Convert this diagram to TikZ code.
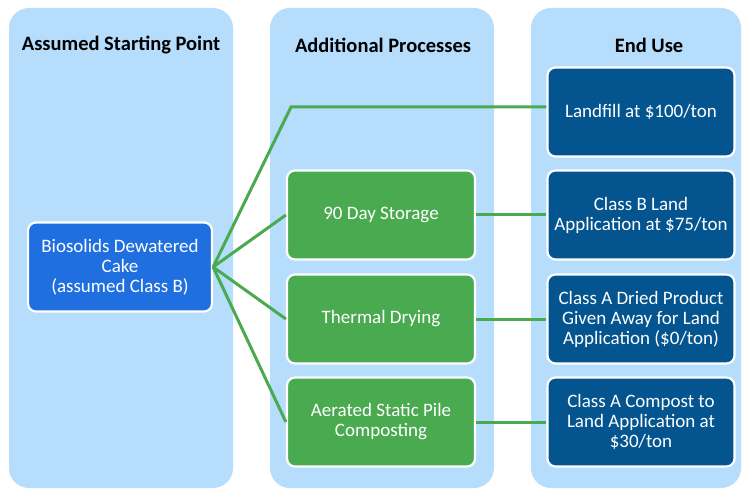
\documentclass[tikz,border=0pt]{standalone}
\usepackage{fontspec}
\setmainfont{Carlito}
\definecolor{colbg}{HTML}{B6DDFB}
\definecolor{startblue}{HTML}{1F6FE0}
\definecolor{procgreen}{HTML}{4AAA50}
\definecolor{enddark}{HTML}{04558F}
\definecolor{linegreen}{HTML}{4AAA50}
\begin{document}
\begin{tikzpicture}[x=1pt,y=-1pt,
  column/.style={fill=colbg,draw=none,rounded corners=20pt},
  header/.style={font=\fontsize{20.5}{24}\selectfont\bfseries,text=black},
  box/.style={draw=white,line width=2.2pt,rounded corners=8pt,text=white,align=center,
     font=\fontsize{19}{20}\selectfont,inner sep=0pt},
  startbox/.style={box,fill=startblue,minimum width=184pt,minimum height=89pt},
  procbox/.style={box,fill=procgreen,minimum width=188pt,minimum height=89pt},
  endbox/.style={box,fill=enddark,minimum width=187pt,minimum height=89pt},
  conn/.style={draw=linegreen,line width=3pt}]
\useasboundingbox (0,0) rectangle (744,489);
\fill[white] (0,0) rectangle (744,489);
\fill[column] (9,8) rectangle (233,488);
\fill[column] (270,8) rectangle (494,488);
\fill[column] (531,8) rectangle (741,488);
\node[header] (h1) at (121,45) {Assumed Starting Point};
\node[header] (h2) at (383,45) {Additional Processes};
\node[header] (h3) at (649,45) {End Use};
\node[startbox] (s) at (120,267) {Biosolids Dewatered\\Cake\\(assumed Class B)};
\node[procbox] (p1) at (381,215) {90 Day Storage};
\node[procbox] (p2) at (381,319) {Thermal Drying};
\node[procbox] (p3) at (381,422) {Aerated Static Pile\\Composting};
\node[endbox] (e0) at (641,112) {Landfill at \$100/ton};
\node[endbox] (e1) at (641,215) {Class B Land\\Application at \$75/ton};
\node[endbox] (e2) at (641,319) {Class A Dried Product\\Given Away for Land\\Application (\$0/ton)};
\node[endbox] (e3) at (641,422) {Class A Compost to\\Land Application at\\\$30/ton};
\coordinate (k) at (291,107);
\draw[conn,line join=miter] (s.east) -- (k) -- (e0.west |- k);
\draw[conn] (s.east) -- (p1.west);
\draw[conn] (s.east) -- (p2.west);
\draw[conn] (s.east) -- (p3.west);
\draw[conn] (p1.east) -- (e1.west);
\draw[conn] (p2.east) -- (e2.west);
\draw[conn] (p3.east) -- (e3.west);
\end{tikzpicture}
\end{document}
